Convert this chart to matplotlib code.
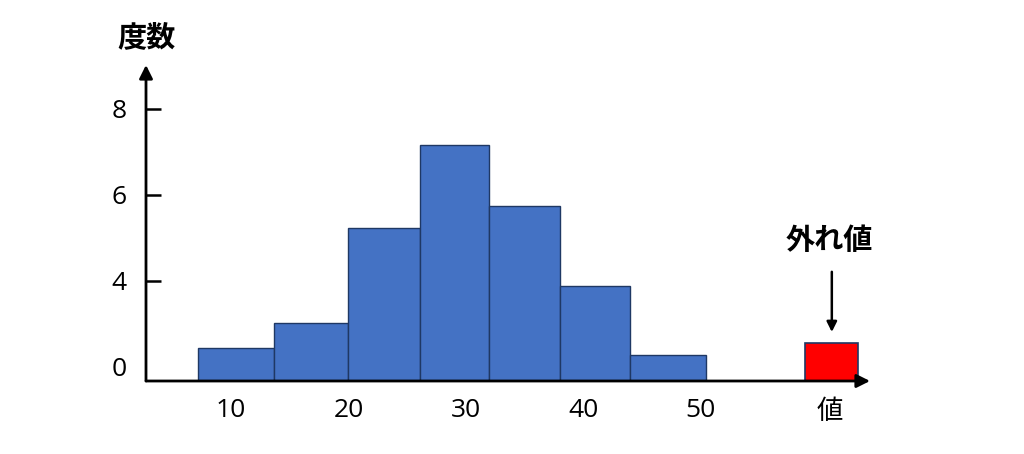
import numpy as np
import matplotlib.pyplot as plt

plt.rcParams['font.family'] = ['Open Sans', 'Noto Sans CJK JP', 'DejaVu Sans']

# histogram bins (left edges, right edges) and bar tops
bin_left = [7.2, 13.7, 20.0, 26.1, 32.0, 38.0, 44.0]
bin_right = [13.7, 20.0, 26.1, 32.0, 38.0, 44.0, 50.4]
bar_top = [2.44, 3.02, 5.23, 7.16, 5.74, 3.88, 2.28]

outlier_left = 58.9
outlier_right = 63.4
outlier_top = 2.56

baseline = 1.67

x_ticks = [10, 20, 30, 40, 50, 61]
x_labels = ['10', '20', '30', '40', '50', '値']
y_ticks = [2, 4, 6, 8]
y_labels = ['0', '4', '6', '8']

cjk = ['Noto Sans CJK JP', 'DejaVu Sans']

fig = plt.figure(figsize=(10.24, 4.54), dpi=100)
ax = fig.add_axes([146 / 1024, (454 - 381) / 454, (870 - 146) / 1024, (381 - 65) / 454])

left = np.array(bin_left)
widths = np.array(bin_right) - left
heights = np.array(bar_top) - baseline
ax.bar(left, heights, width=widths, bottom=baseline, align='edge',
       color='#4472C4', edgecolor='#1F3864', linewidth=1.0, zorder=2)
ax.bar(outlier_left, outlier_top - baseline, width=outlier_right - outlier_left,
       bottom=baseline, align='edge', color='#FF0000', edgecolor='#1F3864',
       linewidth=1.2, zorder=2)

ax.set_xlim(2.77, 64.4)
ax.set_ylim(baseline, 9.02)

for s in ax.spines.values():
    s.set_visible(False)

# axes with arrow heads
ax.annotate('', xy=(1.0, 0), xytext=(0, 0), xycoords='axes fraction',
            arrowprops=dict(arrowstyle='-|>', color='black', lw=2,
                            mutation_scale=20, shrinkA=0, shrinkB=0))
ax.annotate('', xy=(0, 1.0), xytext=(0, 0), xycoords='axes fraction',
            arrowprops=dict(arrowstyle='-|>', color='black', lw=2,
                            mutation_scale=20, shrinkA=0, shrinkB=0))

ax.set_xticks(x_ticks)
ax.set_xticklabels(x_labels)
ax.tick_params(axis='x', length=0, pad=12, labelsize=19)
ax.set_yticks(y_ticks)
ax.set_yticklabels(y_labels)
ax.tick_params(axis='y', direction='in', length=11, width=1.8, pad=14, labelsize=19)
ax.yaxis.get_major_ticks()[0].tick1line.set_visible(False)
ax.get_xticklabels()[-1].set_family(cjk)

ax.text(0, 1.04, '度数', transform=ax.transAxes, ha='center', va='bottom',
        fontsize=21, fontweight='bold', family=cjk)

# outlier annotation
ox = (outlier_left + outlier_right) / 2
ax.annotate('', xy=(ox, outlier_top + 0.25), xytext=(ox, outlier_top + 1.65),
            arrowprops=dict(arrowstyle='-|>', color='black', lw=1.8,
                            mutation_scale=15, shrinkA=0, shrinkB=0))
ax.text(ox - 0.2, outlier_top + 2.05, '外れ値', ha='center', va='bottom',
        fontsize=21, fontweight='bold', family=cjk)

fig.savefig('out.png', dpi=100, facecolor='white')
